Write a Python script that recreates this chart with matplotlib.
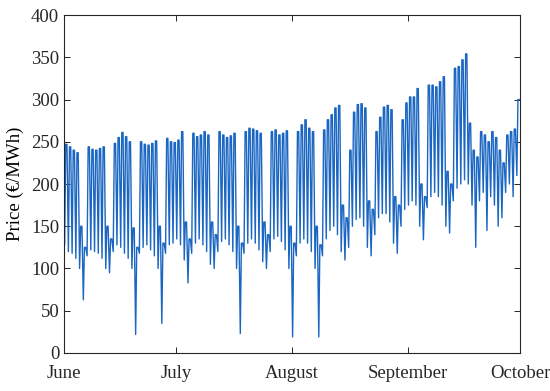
import matplotlib
matplotlib.use("Agg")
import matplotlib.pyplot as plt
import numpy as np
import pandas as pd

# daily night minimum (~04:00) and daytime level (~11:00-19:00), EUR/MWh
jun_low = [128, 120, 118, 112, 100, 63,
           115, 122, 120, 118, 112, 100, 95,
           120, 128, 125, 118, 112, 100, 22,
           118, 125, 128, 122, 115, 100, 35,
           118, 128, 130]
jun_high = [247, 244, 240, 237, 150, 125,
            244, 241, 240, 242, 244, 150, 135,
            248, 255, 261, 256, 250, 148, 125,
            250, 247, 246, 248, 251, 150, 130,
            254, 250, 249]
jul_low = [135, 128, 110, 83,
           118, 130, 135, 128, 120, 105, 100,
           120, 132, 135, 128, 120, 100, 23,
           118, 130, 135, 130, 122, 108, 100,
           120, 135, 138, 132, 122, 100]
jul_high = [252, 262, 155, 135,
            260, 256, 258, 262, 258, 155, 140,
            262, 258, 255, 257, 260, 150, 130,
            262, 266, 265, 263, 260, 155, 140,
            262, 264, 258, 260, 263, 150]
aug_low = [19, 115, 130, 135, 130, 120, 100, 19,
           115, 135, 145, 150, 140, 120, 110,
           125, 150, 158, 160, 150, 125, 115,
           140, 160, 165, 165, 155, 130, 118,
           150, 170]
aug_high = [130, 262, 270, 276, 266, 262, 150, 128,
            264, 276, 282, 290, 293, 175, 160,
            240, 285, 294, 295, 290, 180, 170,
            262, 279, 291, 293, 288, 185, 175,
            276, 296]
sep_low = [175, 180, 175, 150, 134,
           172, 185, 190, 185, 175, 150, 142,
           180, 195, 200, 205, 200, 175, 125,
           180, 190, 145, 185, 175, 150, 160,
           190, 200, 185, 210]
sep_high = [303, 303, 313, 200, 185,
            317, 317, 315, 321, 327, 215, 200,
            337, 339, 347, 354, 272, 240, 232,
            262, 258, 250, 262, 255, 240, 225,
            258, 262, 265, 300]

month_labels = ["June", "July", "August", "September", "October"]

lows = jun_low + jul_low + aug_low + sep_low
highs = jun_high + jul_high + aug_high + sep_high
days = pd.date_range("2021-06-01", periods=len(lows), freq="D")

t = []
price = []
for d, lo, hi in zip(days, lows, highs):
    t += [d + pd.Timedelta(hours=4), d + pd.Timedelta(hours=11), d + pd.Timedelta(hours=19)]
    price += [lo, hi, hi]

plt.rcParams['font.family'] = ['Liberation Serif', 'DejaVu Serif']
plt.rcParams['font.size'] = 13.5

fig = plt.figure(figsize=(5.5, 3.91), dpi=100)
ax = fig.add_axes([0.1164, 0.0972, 0.829, 0.8644])
ax.plot(t, price, color='#1a66c2', lw=1.0)

ticks = pd.date_range("2021-06-01", periods=5, freq="MS")
ax.set_xticks(ticks)
ax.set_xticklabels(month_labels)
ax.set_xlim(ticks[0], ticks[-1])
ax.set_ylim(0, 400)
ax.set_yticks(np.arange(0, 401, 50))
ax.set_ylabel("Price (€/MWh)", labelpad=5)
ax.tick_params(direction='in', top=True, right=True, length=4, width=0.7,
               colors='#262626', labelcolor='#262626')
ax.tick_params(axis='x', pad=9)
for s in ax.spines.values():
    s.set_color('#262626')
    s.set_linewidth(0.8)

fig.savefig("out.png", dpi=100)
